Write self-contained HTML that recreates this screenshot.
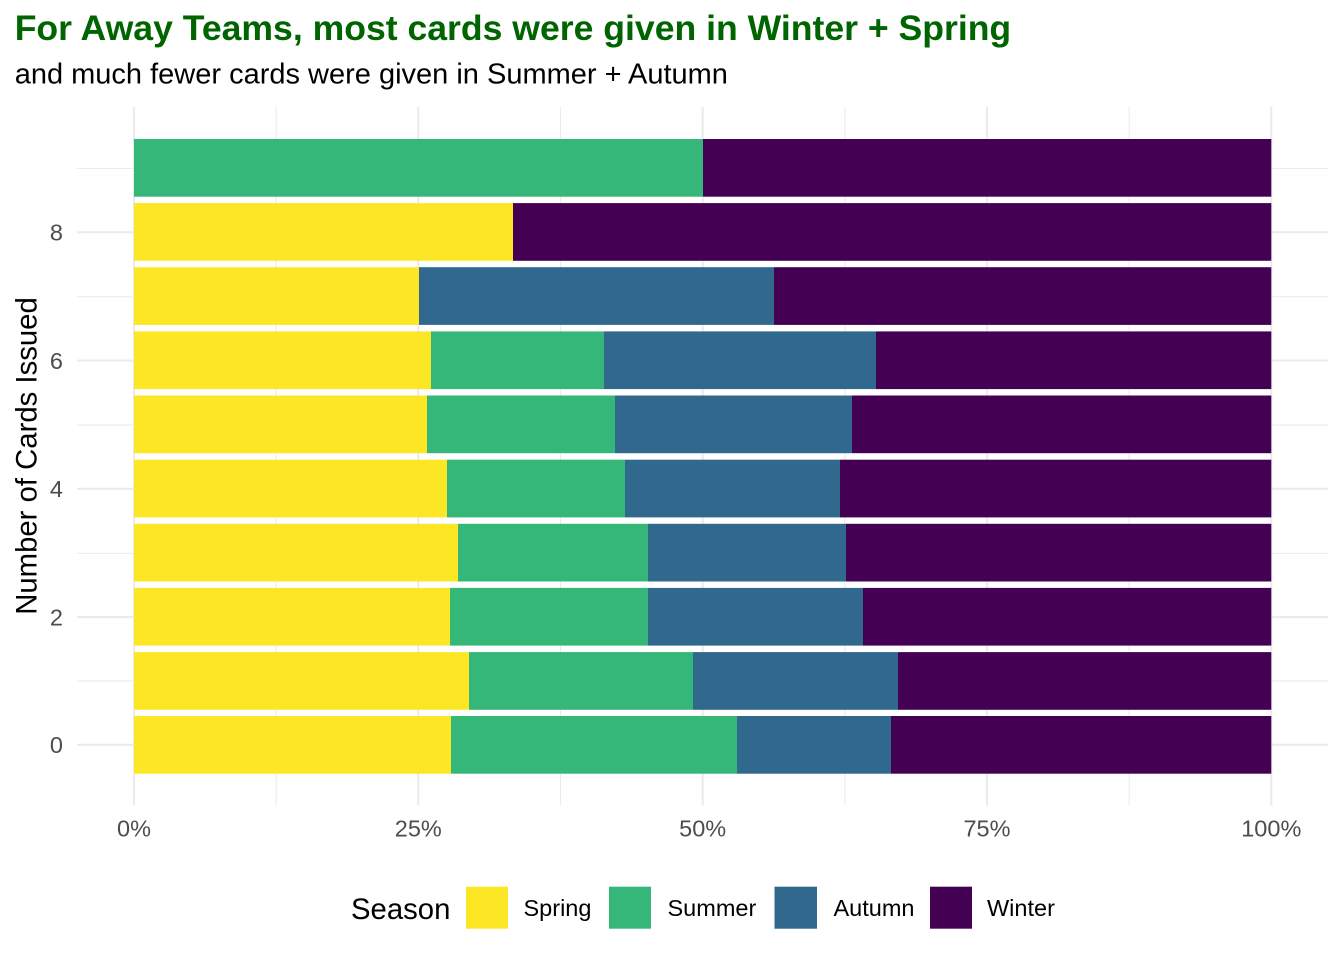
<!DOCTYPE html>
<html>
<head>
<meta charset="utf-8">
<style>
  html, body { margin: 0; padding: 0; background: #ffffff; }
  svg { display: block; }
  text { font-family: "Liberation Sans", Arial, sans-serif; }
</style>
</head>
<body>
<svg width="1344" height="960" viewBox="0 0 1344 960" xmlns="http://www.w3.org/2000/svg">
  <rect x="0" y="0" width="1344" height="960" fill="#ffffff"/>

  <!-- Title / subtitle -->
  <text x="14.7" y="40" font-size="35.6" font-weight="bold" fill="#006400">For Away Teams, most cards were given in Winter + Spring</text>
  <text x="14.7" y="83.3" font-size="29" fill="#000000">and much fewer cards were given in Summer + Autumn</text>

  <!-- Minor gridlines -->
  <g stroke="#EBEBEB" stroke-width="1.1" fill="none">
    <line x1="276.2" y1="106.9" x2="276.2" y2="805.4"/>
    <line x1="560.5" y1="106.9" x2="560.5" y2="805.4"/>
    <line x1="844.8" y1="106.9" x2="844.8" y2="805.4"/>
    <line x1="1129.2" y1="106.9" x2="1129.2" y2="805.4"/>
    <line x1="77" y1="168.5" x2="1328.2" y2="168.5"/>
    <line x1="77" y1="296.8" x2="1328.2" y2="296.8"/>
    <line x1="77" y1="425.1" x2="1328.2" y2="425.1"/>
    <line x1="77" y1="553.4" x2="1328.2" y2="553.4"/>
    <line x1="77" y1="680.9" x2="1328.2" y2="680.9"/>
  </g>
  <!-- Major gridlines -->
  <g stroke="#EBEBEB" stroke-width="2.1" fill="none">
    <line x1="134" y1="106.9" x2="134" y2="805.4"/>
    <line x1="418.3" y1="106.9" x2="418.3" y2="805.4"/>
    <line x1="702.7" y1="106.9" x2="702.7" y2="805.4"/>
    <line x1="987" y1="106.9" x2="987" y2="805.4"/>
    <line x1="1271.3" y1="106.9" x2="1271.3" y2="805.4"/>
    <line x1="77" y1="232.2" x2="1328.2" y2="232.2"/>
    <line x1="77" y1="360.5" x2="1328.2" y2="360.5"/>
    <line x1="77" y1="488.8" x2="1328.2" y2="488.8"/>
    <line x1="77" y1="617.1" x2="1328.2" y2="617.1"/>
    <line x1="77" y1="744.8" x2="1328.2" y2="744.8"/>
  </g>

  <!-- Bars -->
  <!-- row 9 -->
  <rect x="134" y="139" width="569" height="57.7" fill="#35B779"/>
  <rect x="703" y="139" width="568.3" height="57.7" fill="#440154"/>
  <!-- row 8 -->
  <rect x="134" y="203.1" width="379" height="57.7" fill="#FDE725"/>
  <rect x="513" y="203.1" width="758.3" height="57.7" fill="#440154"/>
  <!-- row 7 -->
  <rect x="134" y="267.2" width="285" height="57.7" fill="#FDE725"/>
  <rect x="419" y="267.2" width="355" height="57.7" fill="#31688E"/>
  <rect x="774" y="267.2" width="497.3" height="57.7" fill="#440154"/>
  <!-- row 6 -->
  <rect x="134" y="331.4" width="297" height="57.7" fill="#FDE725"/>
  <rect x="431" y="331.4" width="173" height="57.7" fill="#35B779"/>
  <rect x="604" y="331.4" width="272" height="57.7" fill="#31688E"/>
  <rect x="876" y="331.4" width="395.3" height="57.7" fill="#440154"/>
  <!-- row 5 -->
  <rect x="134" y="395.5" width="293" height="57.7" fill="#FDE725"/>
  <rect x="427" y="395.5" width="188" height="57.7" fill="#35B779"/>
  <rect x="615" y="395.5" width="237" height="57.7" fill="#31688E"/>
  <rect x="852" y="395.5" width="419.3" height="57.7" fill="#440154"/>
  <!-- row 4 -->
  <rect x="134" y="459.7" width="313" height="57.7" fill="#FDE725"/>
  <rect x="447" y="459.7" width="178" height="57.7" fill="#35B779"/>
  <rect x="625" y="459.7" width="215" height="57.7" fill="#31688E"/>
  <rect x="840" y="459.7" width="431.3" height="57.7" fill="#440154"/>
  <!-- row 3 -->
  <rect x="134" y="523.8" width="324" height="57.7" fill="#FDE725"/>
  <rect x="458" y="523.8" width="190" height="57.7" fill="#35B779"/>
  <rect x="648" y="523.8" width="198" height="57.7" fill="#31688E"/>
  <rect x="846" y="523.8" width="425.3" height="57.7" fill="#440154"/>
  <!-- row 2 -->
  <rect x="134" y="587.9" width="316" height="57.7" fill="#FDE725"/>
  <rect x="450" y="587.9" width="198" height="57.7" fill="#35B779"/>
  <rect x="648" y="587.9" width="215" height="57.7" fill="#31688E"/>
  <rect x="863" y="587.9" width="408.3" height="57.7" fill="#440154"/>
  <!-- row 1 -->
  <rect x="134" y="652.1" width="335" height="57.7" fill="#FDE725"/>
  <rect x="469" y="652.1" width="224" height="57.7" fill="#35B779"/>
  <rect x="693" y="652.1" width="205" height="57.7" fill="#31688E"/>
  <rect x="898" y="652.1" width="373.3" height="57.7" fill="#440154"/>
  <!-- row 0 -->
  <rect x="134" y="716" width="317" height="57.7" fill="#FDE725"/>
  <rect x="451" y="716" width="286" height="57.7" fill="#35B779"/>
  <rect x="737" y="716" width="154" height="57.7" fill="#31688E"/>
  <rect x="891" y="716" width="380.3" height="57.7" fill="#440154"/>

  <!-- Y tick labels -->
  <g font-size="23.5" fill="#4D4D4D" text-anchor="end">
    <text x="63" y="240.6">8</text>
    <text x="63" y="368.9">6</text>
    <text x="63" y="497.2">4</text>
    <text x="63" y="625.5">2</text>
    <text x="63" y="753.2">0</text>
  </g>

  <!-- X tick labels -->
  <g font-size="23.5" fill="#4D4D4D" text-anchor="middle">
    <text x="134" y="836.4">0%</text>
    <text x="418.3" y="836.4">25%</text>
    <text x="702.7" y="836.4">50%</text>
    <text x="987" y="836.4">75%</text>
    <text x="1271.3" y="836.4">100%</text>
  </g>

  <!-- Y axis title -->
  <text transform="translate(36.5,456) rotate(-90)" font-size="29.3" fill="#000000" text-anchor="middle">Number of Cards Issued</text>

  <!-- Legend -->
  <text x="351" y="919" font-size="29.3" fill="#000000">Season</text>
  <rect x="466" y="886.7" width="42" height="42" fill="#FDE725"/>
  <text x="523.5" y="915.8" font-size="23.5" fill="#000000">Spring</text>
  <rect x="609" y="886.7" width="42" height="42" fill="#35B779"/>
  <text x="667.5" y="915.8" font-size="23.5" fill="#000000">Summer</text>
  <rect x="774.5" y="886.7" width="42.5" height="42" fill="#31688E"/>
  <text x="833.5" y="915.8" font-size="23.5" fill="#000000">Autumn</text>
  <rect x="930" y="886.7" width="42" height="42" fill="#440154"/>
  <text x="987" y="915.8" font-size="23.5" fill="#000000">Winter</text>
</svg>
</body>
</html>
